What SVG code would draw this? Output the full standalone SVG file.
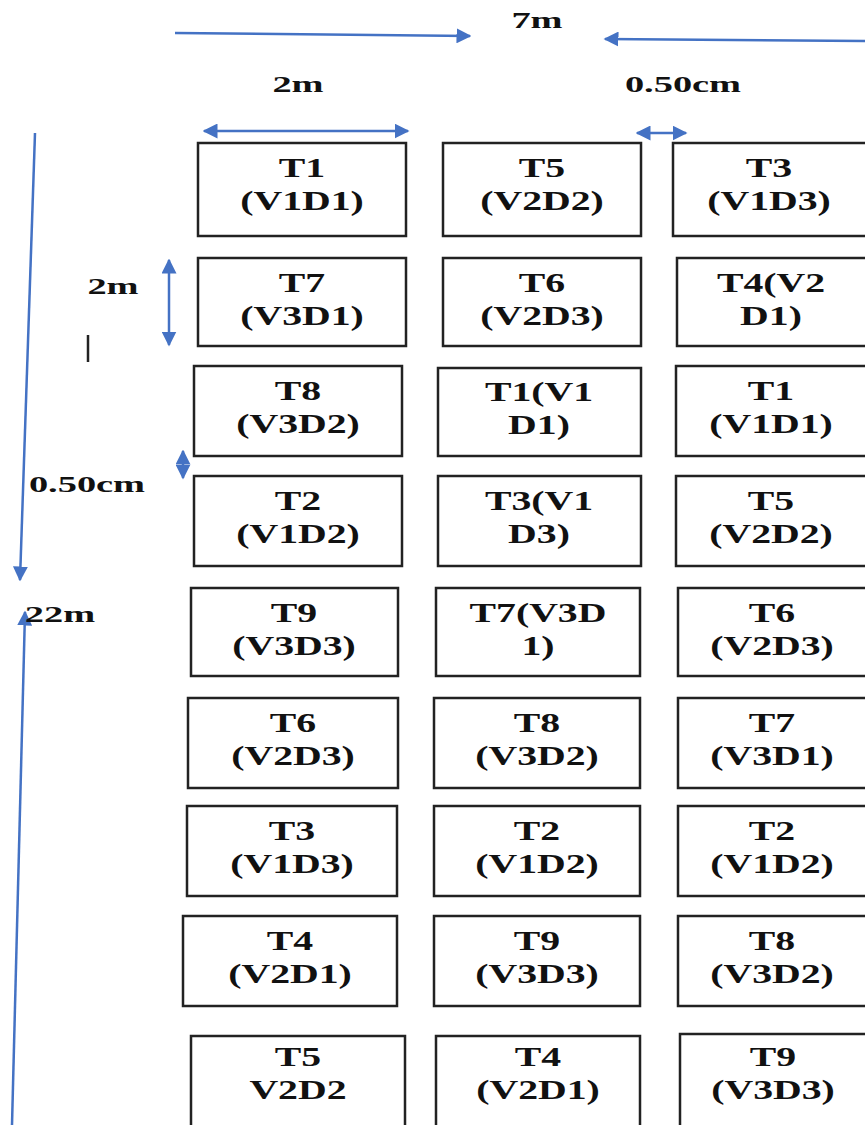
<svg xmlns="http://www.w3.org/2000/svg" width="865" height="1125" viewBox="0 0 865 1125">
<style>
.box{fill:#fff;stroke:#222;stroke-width:2.5}
.t{font-family:"Liberation Serif","Times New Roman",serif;font-weight:bold;font-size:28px;text-anchor:middle;fill:#111}
.d{font-family:"Liberation Serif","Times New Roman",serif;font-weight:bold;font-size:24px;text-anchor:middle;fill:#111}
.a{stroke:#4472C4;stroke-width:2.5;fill:none}
</style>
<defs>
<marker id="ah" viewBox="0 0 10 10" refX="9" refY="5" markerWidth="6" markerHeight="6" orient="auto-start-reverse" markerUnits="strokeWidth">
<path d="M0,0 L10,5 L0,10 z" fill="#4472C4"/>
</marker>
</defs>
<rect width="865" height="1125" fill="#fff"/>

<g id="connectors">
<line class="a" x1="175" y1="33" x2="470" y2="36" marker-end="url(#ah)"/>
<line class="a" x1="868" y1="41" x2="605" y2="39" marker-end="url(#ah)"/>
<line class="a" x1="204" y1="131" x2="408" y2="131" marker-start="url(#ah)" marker-end="url(#ah)"/>
<line class="a" x1="637" y1="133" x2="686" y2="133" marker-start="url(#ah)" marker-end="url(#ah)"/>
<line class="a" x1="35" y1="133" x2="20" y2="580" marker-end="url(#ah)"/>
<line class="a" x1="12" y1="1125" x2="25" y2="612" marker-end="url(#ah)"/>
<line class="a" x1="169" y1="260" x2="169" y2="345" marker-start="url(#ah)" marker-end="url(#ah)"/>
<line class="a" x1="183" y1="451" x2="183" y2="478" marker-start="url(#ah)" marker-end="url(#ah)"/>
<line x1="88" y1="335" x2="88" y2="362" stroke="#222" stroke-width="2.5"/>
</g>

<g id="labels">
<text class="d" transform="translate(537 28) scale(1.6 1)">7m</text>
<text class="d" transform="translate(298 92) scale(1.6 1)">2m</text>
<text class="d" transform="translate(683 92) scale(1.6 1)">0.50cm</text>
<text class="d" transform="translate(113 294) scale(1.6 1)">2m</text>
<text class="d" transform="translate(87 492) scale(1.6 1)">0.50cm</text>
<text class="d" transform="translate(60 622) scale(1.6 1)">22m</text>
</g>

<!-- Column 1 -->
<g id="c1r1"><rect class="box" x="198" y="143" width="208" height="93"/><text class="t" transform="translate(302 177) scale(1.42 1)">T1</text><text class="t" transform="translate(302 210) scale(1.42 1)">(V1D1)</text></g>
<g id="c1r2"><rect class="box" x="198" y="258" width="208" height="88"/><text class="t" transform="translate(302 292) scale(1.42 1)">T7</text><text class="t" transform="translate(302 325) scale(1.42 1)">(V3D1)</text></g>
<g id="c1r3"><rect class="box" x="194" y="366" width="208" height="90"/><text class="t" transform="translate(298 400) scale(1.42 1)">T8</text><text class="t" transform="translate(298 433) scale(1.42 1)">(V3D2)</text></g>
<g id="c1r4"><rect class="box" x="194" y="476" width="208" height="90"/><text class="t" transform="translate(298 510) scale(1.42 1)">T2</text><text class="t" transform="translate(298 543) scale(1.42 1)">(V1D2)</text></g>
<g id="c1r5"><rect class="box" x="191" y="588" width="207" height="88"/><text class="t" transform="translate(294 622) scale(1.42 1)">T9</text><text class="t" transform="translate(294 655) scale(1.42 1)">(V3D3)</text></g>
<g id="c1r6"><rect class="box" x="188" y="698" width="210" height="90"/><text class="t" transform="translate(293 732) scale(1.42 1)">T6</text><text class="t" transform="translate(293 765) scale(1.42 1)">(V2D3)</text></g>
<g id="c1r7"><rect class="box" x="187" y="806" width="210" height="90"/><text class="t" transform="translate(292 840) scale(1.42 1)">T3</text><text class="t" transform="translate(292 873) scale(1.42 1)">(V1D3)</text></g>
<g id="c1r8"><rect class="box" x="183" y="916" width="214" height="90"/><text class="t" transform="translate(290 950) scale(1.42 1)">T4</text><text class="t" transform="translate(290 983) scale(1.42 1)">(V2D1)</text></g>
<g id="c1r9"><rect class="box" x="191" y="1036" width="214" height="95"/><text class="t" transform="translate(298 1066) scale(1.42 1)">T5</text><text class="t" transform="translate(298 1099) scale(1.42 1)">V2D2</text></g>

<!-- Column 2 -->
<g id="c2r1"><rect class="box" x="443" y="143" width="198" height="93"/><text class="t" transform="translate(542 177) scale(1.42 1)">T5</text><text class="t" transform="translate(542 210) scale(1.42 1)">(V2D2)</text></g>
<g id="c2r2"><rect class="box" x="443" y="258" width="198" height="88"/><text class="t" transform="translate(542 292) scale(1.42 1)">T6</text><text class="t" transform="translate(542 325) scale(1.42 1)">(V2D3)</text></g>
<g id="c2r3"><rect class="box" x="438" y="368" width="203" height="88"/><text class="t" transform="translate(539 401) scale(1.42 1)">T1(V1</text><text class="t" transform="translate(539 434) scale(1.42 1)">D1)</text></g>
<g id="c2r4"><rect class="box" x="438" y="476" width="203" height="90"/><text class="t" transform="translate(539 510) scale(1.42 1)">T3(V1</text><text class="t" transform="translate(539 543) scale(1.42 1)">D3)</text></g>
<g id="c2r5"><rect class="box" x="436" y="588" width="204" height="88"/><text class="t" transform="translate(538 622) scale(1.42 1)">T7(V3D</text><text class="t" transform="translate(538 655) scale(1.42 1)">1)</text></g>
<g id="c2r6"><rect class="box" x="434" y="698" width="206" height="90"/><text class="t" transform="translate(537 732) scale(1.42 1)">T8</text><text class="t" transform="translate(537 765) scale(1.42 1)">(V3D2)</text></g>
<g id="c2r7"><rect class="box" x="434" y="806" width="206" height="90"/><text class="t" transform="translate(537 840) scale(1.42 1)">T2</text><text class="t" transform="translate(537 873) scale(1.42 1)">(V1D2)</text></g>
<g id="c2r8"><rect class="box" x="434" y="916" width="206" height="90"/><text class="t" transform="translate(537 950) scale(1.42 1)">T9</text><text class="t" transform="translate(537 983) scale(1.42 1)">(V3D3)</text></g>
<g id="c2r9"><rect class="box" x="436" y="1036" width="204" height="95"/><text class="t" transform="translate(538 1066) scale(1.42 1)">T4</text><text class="t" transform="translate(538 1099) scale(1.42 1)">(V2D1)</text></g>

<!-- Column 3 -->
<g id="c3r1"><rect class="box" x="673" y="143" width="195" height="93"/><text class="t" transform="translate(769 177) scale(1.42 1)">T3</text><text class="t" transform="translate(769 210) scale(1.42 1)">(V1D3)</text></g>
<g id="c3r2"><rect class="box" x="677" y="258" width="191" height="88"/><text class="t" transform="translate(771 292) scale(1.42 1)">T4(V2</text><text class="t" transform="translate(771 325) scale(1.42 1)">D1)</text></g>
<g id="c3r3"><rect class="box" x="676" y="366" width="192" height="90"/><text class="t" transform="translate(771 400) scale(1.42 1)">T1</text><text class="t" transform="translate(771 433) scale(1.42 1)">(V1D1)</text></g>
<g id="c3r4"><rect class="box" x="676" y="476" width="192" height="90"/><text class="t" transform="translate(771 510) scale(1.42 1)">T5</text><text class="t" transform="translate(771 543) scale(1.42 1)">(V2D2)</text></g>
<g id="c3r5"><rect class="box" x="678" y="588" width="190" height="88"/><text class="t" transform="translate(772 622) scale(1.42 1)">T6</text><text class="t" transform="translate(772 655) scale(1.42 1)">(V2D3)</text></g>
<g id="c3r6"><rect class="box" x="678" y="698" width="190" height="90"/><text class="t" transform="translate(772 732) scale(1.42 1)">T7</text><text class="t" transform="translate(772 765) scale(1.42 1)">(V3D1)</text></g>
<g id="c3r7"><rect class="box" x="678" y="806" width="190" height="90"/><text class="t" transform="translate(772 840) scale(1.42 1)">T2</text><text class="t" transform="translate(772 873) scale(1.42 1)">(V1D2)</text></g>
<g id="c3r8"><rect class="box" x="678" y="916" width="190" height="90"/><text class="t" transform="translate(772 950) scale(1.42 1)">T8</text><text class="t" transform="translate(772 983) scale(1.42 1)">(V3D2)</text></g>
<g id="c3r9"><rect class="box" x="680" y="1034" width="188" height="97"/><text class="t" transform="translate(773 1066) scale(1.42 1)">T9</text><text class="t" transform="translate(773 1099) scale(1.42 1)">(V3D3)</text></g>
</svg>
